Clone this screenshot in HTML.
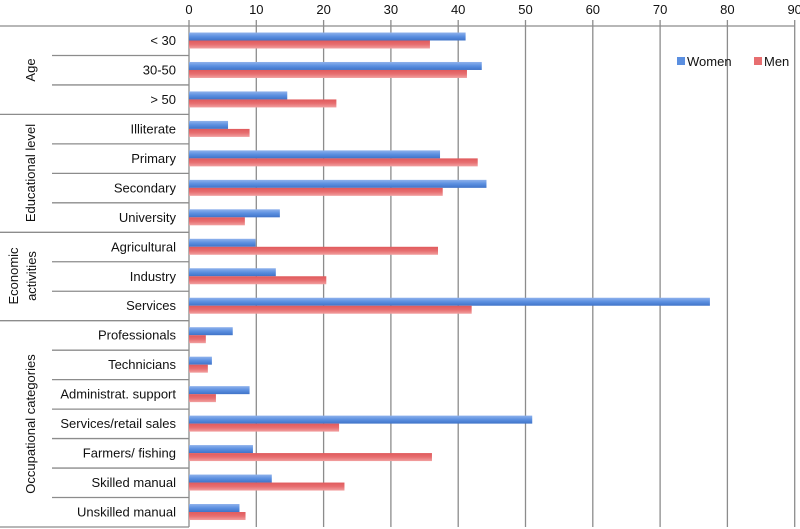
<!DOCTYPE html>
<html><head><meta charset="utf-8"><style>
html,body{margin:0;padding:0;background:#fff;}
svg{display:block;font-family:"Liberation Sans",sans-serif;}
</style></head><body>
<svg width="800" height="529" viewBox="0 0 800 529" xmlns="http://www.w3.org/2000/svg">
<defs>
<linearGradient id="gb" x1="0" y1="0" x2="0" y2="1"><stop offset="0" stop-color="#8fb2ec"/><stop offset="0.5" stop-color="#5b8fe0"/><stop offset="1" stop-color="#3f73c8"/></linearGradient>
<linearGradient id="gr" x1="0" y1="0" x2="0" y2="1"><stop offset="0" stop-color="#e05a5c"/><stop offset="0.5" stop-color="#e76e70"/><stop offset="1" stop-color="#f2a0a0"/></linearGradient>
</defs>
<g id="grid" stroke="#8c8c8c" stroke-width="1.3"></g>
<g id="bars"></g>
<g id="labels" font-size="13" fill="#111" text-anchor="end"></g>
<g id="lines" stroke="#8c8c8c" stroke-width="1.3"></g>
<g font-size="13" fill="#111" text-anchor="middle" id="ticks"></g>
<g font-size="13" fill="#111" text-anchor="middle">
<text transform="translate(35,70) rotate(-90)">Age</text>
<text transform="translate(35,173) rotate(-90)">Educational level</text>
<text transform="translate(18,276) rotate(-90)">Economic</text>
<text transform="translate(36,276) rotate(-90)">activities</text>
<text transform="translate(35,424) rotate(-90)">Occupational categories</text>
</g>
<rect x="677" y="57" width="8" height="8" fill="#5b8fe0"/>
<text x="687" y="66" font-size="13" fill="#111">Women</text>
<rect x="754" y="57" width="8" height="8" fill="#e76e70"/>
<text x="764" y="66" font-size="13" fill="#111">Men</text>
</svg>
<script>
(function(){
var ns="http://www.w3.org/2000/svg";
function el(p,t,a,txt){var e=document.createElementNS(ns,t);for(var k in a)e.setAttribute(k,a[k]);if(txt!==undefined)e.textContent=txt;document.getElementById(p).appendChild(e);}
var x0=189,u=6.73,y0=26,rh=29.47;
var rows=[["< 30",41.1,35.8],["30-50",43.5,41.3],["> 50",14.6,21.9],["Illiterate",5.8,9.0],["Primary",37.3,42.9],["Secondary",44.2,37.7],["University",13.5,8.3],["Agricultural",9.9,37.0],["Industry",12.9,20.4],["Services",77.4,42.0],["Professionals",6.5,2.5],["Technicians",3.4,2.8],["Administrat. support",9.0,4.0],["Services/retail sales",51.0,22.3],["Farmers/ fishing",9.5,36.1],["Skilled manual",12.3,23.1],["Unskilled manual",7.5,8.4]];
for(var i=0;i<=9;i++){var x=x0+i*10*u;el("ticks","text",{x:x,y:14},String(i*10));el("grid","line",{x1:x,y1:20,x2:x,y2:527});}
el("lines","line",{x1:0,y1:y0,x2:x0+90*u,y2:y0});
el("lines","line",{x1:0,y1:527,x2:x0,y2:527});
var groupEnds=[3,7,10];
rows.forEach(function(r,i){var y=y0+i*rh;
el("bars","rect",{x:x0,y:y+6.5,width:r[1]*u,height:8,fill:"url(#gb)"});
el("bars","rect",{x:x0,y:y+14.5,width:r[2]*u,height:8,fill:"url(#gr)"});
el("labels","text",{x:176,y:y+19},r[0]);
if(i>0){el("lines","line",{x1:groupEnds.indexOf(i)>=0?0:52,y1:y,x2:x0,y2:y});}
});
})();
</script>
</body></html>
